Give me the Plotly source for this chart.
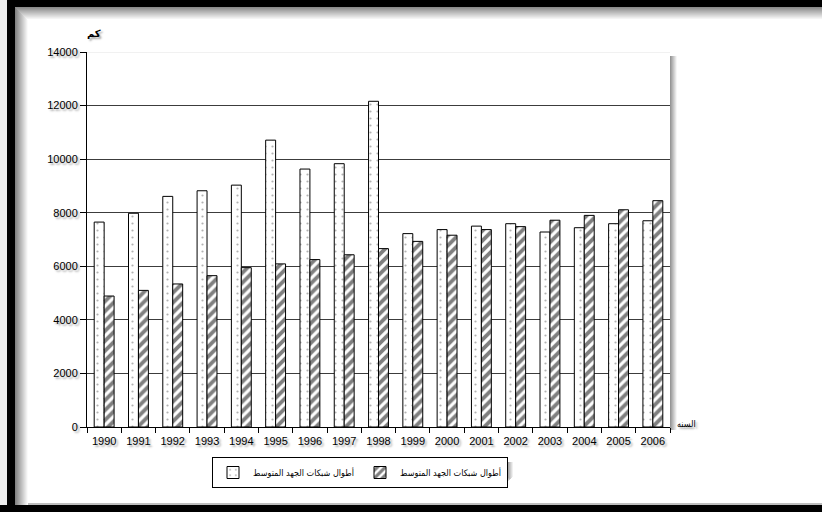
import plotly.graph_objects as go

# --- data -------------------------------------------------------------
years = [str(y) for y in range(1990, 2007)]
series_dotted = [7650, 7980, 8610, 8820, 9030, 10710, 9630, 9830, 12160,
                 7220, 7370, 7500, 7590, 7280, 7440, 7590, 7700]
series_hatched = [4890, 5100, 5340, 5650, 5950, 6090, 6250, 6430, 6660,
                  6930, 7160, 7370, 7480, 7720, 7900, 8110, 8450]
series_names = ["أطوال شبكات الجهد المتوسط", "أطوال شبكات الجهد المتوسط"]
y_ticks = list(range(0, 14001, 2000))
y_title = "كم"
x_title = "السنه"

# --- page geometry (pixels) -------------------------------------------
WIDTH, HEIGHT = 822, 512
L, R, T, B = 87, 670, 52, 427
PW, PH = R - L, B - T


def px(x):
    return (x - L) / PW


def py(y):
    return (B - y) / PH


FONT = "Arial, 'Liberation Sans', 'DejaVu Sans', sans-serif"
AR_FONT = "'DejaVu Sans Condensed', 'DejaVu Sans', sans-serif"
SHADOW = "2px 2px 2px rgba(0,0,0,0.35)"

fig = go.Figure()
fig.add_trace(go.Bar(
    x=years, y=series_dotted, name=series_names[0],
    marker=dict(color="white", line=dict(color="black", width=1),
                pattern=dict(shape=".", fgcolor="#666666", bgcolor="white",
                             size=7, solidity=0.08)),
))
fig.add_trace(go.Bar(
    x=years, y=series_hatched, name=series_names[1],
    marker=dict(color="white", line=dict(color="black", width=1),
                pattern=dict(shape="/", fgcolor="black", bgcolor="white",
                             size=7, solidity=0.55)),
))

shapes = []


def rect(x0, y0, x1, y1, color, layer="below"):
    shapes.append(dict(type="rect", xref="paper", yref="paper",
                       x0=px(x0), x1=px(x1), y0=py(y0), y1=py(y1),
                       fillcolor=color, line=dict(width=0), layer=layer))


def gray(v):
    v = max(0, min(255, int(v)))
    return f"rgb({v},{v},{v})"


# outer frame
rect(0, 0, 7, 505, "#ececec")
rect(7, 0, WIDTH, 7, "black")
rect(7, 0, 15, 505, "black")
rect(0, 505, WIDTH, HEIGHT, "black")
rect(15, 503, WIDTH, 505, "#bdbdbd")
# inner soft shading along the frame
for i in range(13):
    rect(15 + i, 7, 16 + i, 505, gray(130 + i * 10))
for i in range(13):
    rect(15 + i, 7 + i, WIDTH, 8 + i, gray(140 + i * 9.5))

# shading right of the plot area
for i in range(7):
    rect(R + i, T + 4, R + i + 1, B + 3, gray(150 + i * 16))

# shading under/right of the legend box
LX0, LY0, LX1, LY1 = 212, 457, 507, 476
for i in range(6):
    rect(LX0 + 6, LY1 + i, LX1 + 6 - i, LY1 + i + 1, gray(150 + i * 18))
    rect(LX1 + i, LY0 + 5, LX1 + i + 1, LY1 + 6 - i, gray(150 + i * 18))

# light top edge of the plot area
shapes.append(dict(type="line", xref="paper", yref="y", x0=0, x1=1,
                   y0=y_ticks[-1], y1=y_ticks[-1],
                   line=dict(color="#e4e4e4", width=1), layer="above"))

annotations = [
    dict(text=f"<b>{y_title}</b>", xref="paper", yref="paper",
         x=px(85), y=py(26), showarrow=False,
         font=dict(family=FONT, size=10, color="black", shadow=SHADOW)),
    dict(text=x_title, xref="paper", yref="paper",
         x=px(698), y=py(431), showarrow=False,
         font=dict(family=AR_FONT, size=9, color="black", shadow=SHADOW)),
]

fig.update_layout(
    width=WIDTH, height=HEIGHT,
    margin=dict(l=L, r=WIDTH - R, t=T, b=HEIGHT - B, pad=0),
    paper_bgcolor="white", plot_bgcolor="white",
    font=dict(family=FONT, size=11, color="black"),
    barmode="group", bargap=0.42, bargroupgap=0,
    showlegend=True,
    legend=dict(orientation="h", x=px(LX0), y=py(LY0),
                xanchor="left", yanchor="top",
                bgcolor="white", bordercolor="black", borderwidth=1,
                font=dict(family=AR_FONT, size=9, color="black"),
                entrywidth=102, entrywidthmode="pixels",
                itemwidth=30, traceorder="normal"),
    shapes=shapes,
    annotations=annotations,
)

fig.update_xaxes(
    type="category", categoryorder="array", categoryarray=years,
    showline=True, linecolor="black", linewidth=1,
    ticks="outside", tickson="boundaries", ticklen=5, tickcolor="black",
    showgrid=False, ticklabelstandoff=4,
    tickfont=dict(family=FONT, size=11, color="black", shadow=SHADOW),
)
fig.update_yaxes(
    range=[0, y_ticks[-1]], tickmode="array", tickvals=y_ticks,
    ticktext=[str(v) for v in y_ticks],
    showline=True, linecolor="black", linewidth=1,
    ticks="outside", ticklen=6, tickcolor="black",
    showgrid=True, gridcolor="#3c3c3c", gridwidth=1, zeroline=False,
    tickfont=dict(family=FONT, size=11, color="black", shadow=SHADOW),
)

fig.write_html("out.html")
